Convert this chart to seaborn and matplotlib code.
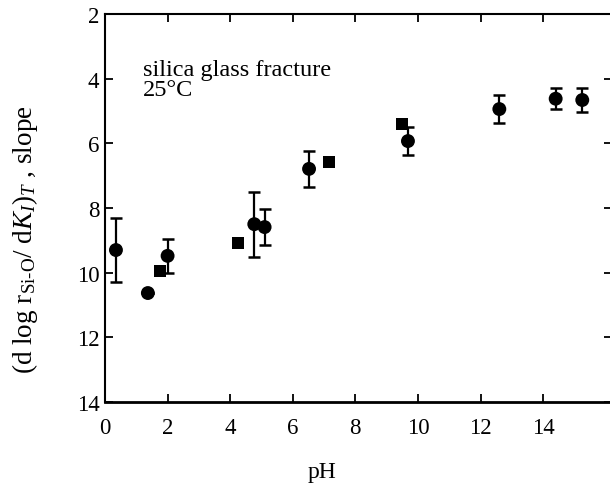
import numpy as np
import pandas as pd
import matplotlib
matplotlib.use("Agg")
import matplotlib.pyplot as plt
import seaborn as sns

# circles (with error bars)
circle_ph = [0.35, 1.37, 2.0, 4.77, 5.1, 6.52, 9.68, 12.6, 14.4, 15.25]
circle_slope = [9.3, 10.63, 9.48, 8.5, 8.59, 6.79, 5.93, 4.94, 4.62, 4.66]
circle_err = [1.0, 0.0, 0.52, 1.0, 0.55, 0.56, 0.42, 0.42, 0.33, 0.38]

# squares (no error bars)
square_ph = [1.76, 4.25, 7.16, 9.49]
square_slope = [9.95, 9.08, 6.58, 5.40]

x_ticks = [0, 2, 4, 6, 8, 10, 12, 14]
y_ticks = [2, 4, 6, 8, 10, 12, 14]

df = pd.DataFrame({
    "pH": circle_ph + square_ph,
    "slope": circle_slope + square_slope,
    "kind": ["circle"] * len(circle_ph) + ["square"] * len(square_ph),
})

sns.set_style("ticks")
plt.rcParams['font.family'] = ['Liberation Serif', 'DejaVu Serif']
plt.rcParams['mathtext.fontset'] = 'custom'
plt.rcParams['mathtext.rm'] = 'Liberation Serif'
plt.rcParams['mathtext.it'] = 'Liberation Serif:italic'
plt.rcParams['text.color'] = 'black'
plt.rcParams['axes.labelcolor'] = 'black'

fig = plt.figure(figsize=(6.1, 4.85), dpi=100)
ax = fig.add_axes([105 / 610, 82 / 485, 507 / 610, 388 / 485])

# error bars for the circle series
ax.errorbar(circle_ph, circle_slope, yerr=circle_err, fmt='none',
            ecolor='black', elinewidth=1.6, capsize=4.5, capthick=1.8, zorder=2)

sns.scatterplot(data=df, x="pH", y="slope", style="kind",
                markers={"circle": "o", "square": "s"},
                size="kind", sizes={"circle": 100, "square": 72},
                color="black", edgecolor="black", linewidth=0,
                legend=False, ax=ax, zorder=3)

ax.set_xlim(0, 16.2)
ax.set_ylim(14, 2)
ax.set_xticks(x_ticks)
ax.set_yticks(y_ticks)
ax.tick_params(direction='in', length=6, width=1.3, labelsize=16.5,
               top=True, right=True, colors='black')
ax.tick_params(axis='x', pad=11)
ax.tick_params(axis='y', pad=4)
for sp in ax.spines.values():
    sp.set_linewidth(1.5)
    sp.set_color('black')
ax.spines['bottom'].set_linewidth(2.0)

ax.set_xlabel("pH", fontsize=17)
ax.xaxis.set_label_coords(0.428, -0.152)
ax.set_ylabel(r"(d log r$_{\mathrm{Si}\text{-}\mathrm{O}}$/ d$K_I$)$_T$ , slope", fontsize=19.5)
ax.yaxis.set_label_coords(-0.128, 0.42)

ax.text(1.2, 3.38, "silica glass fracture\n25°C", fontsize=17.5,
        va='top', ha='left', linespacing=0.95)

fig.savefig("out.png", dpi=100)
